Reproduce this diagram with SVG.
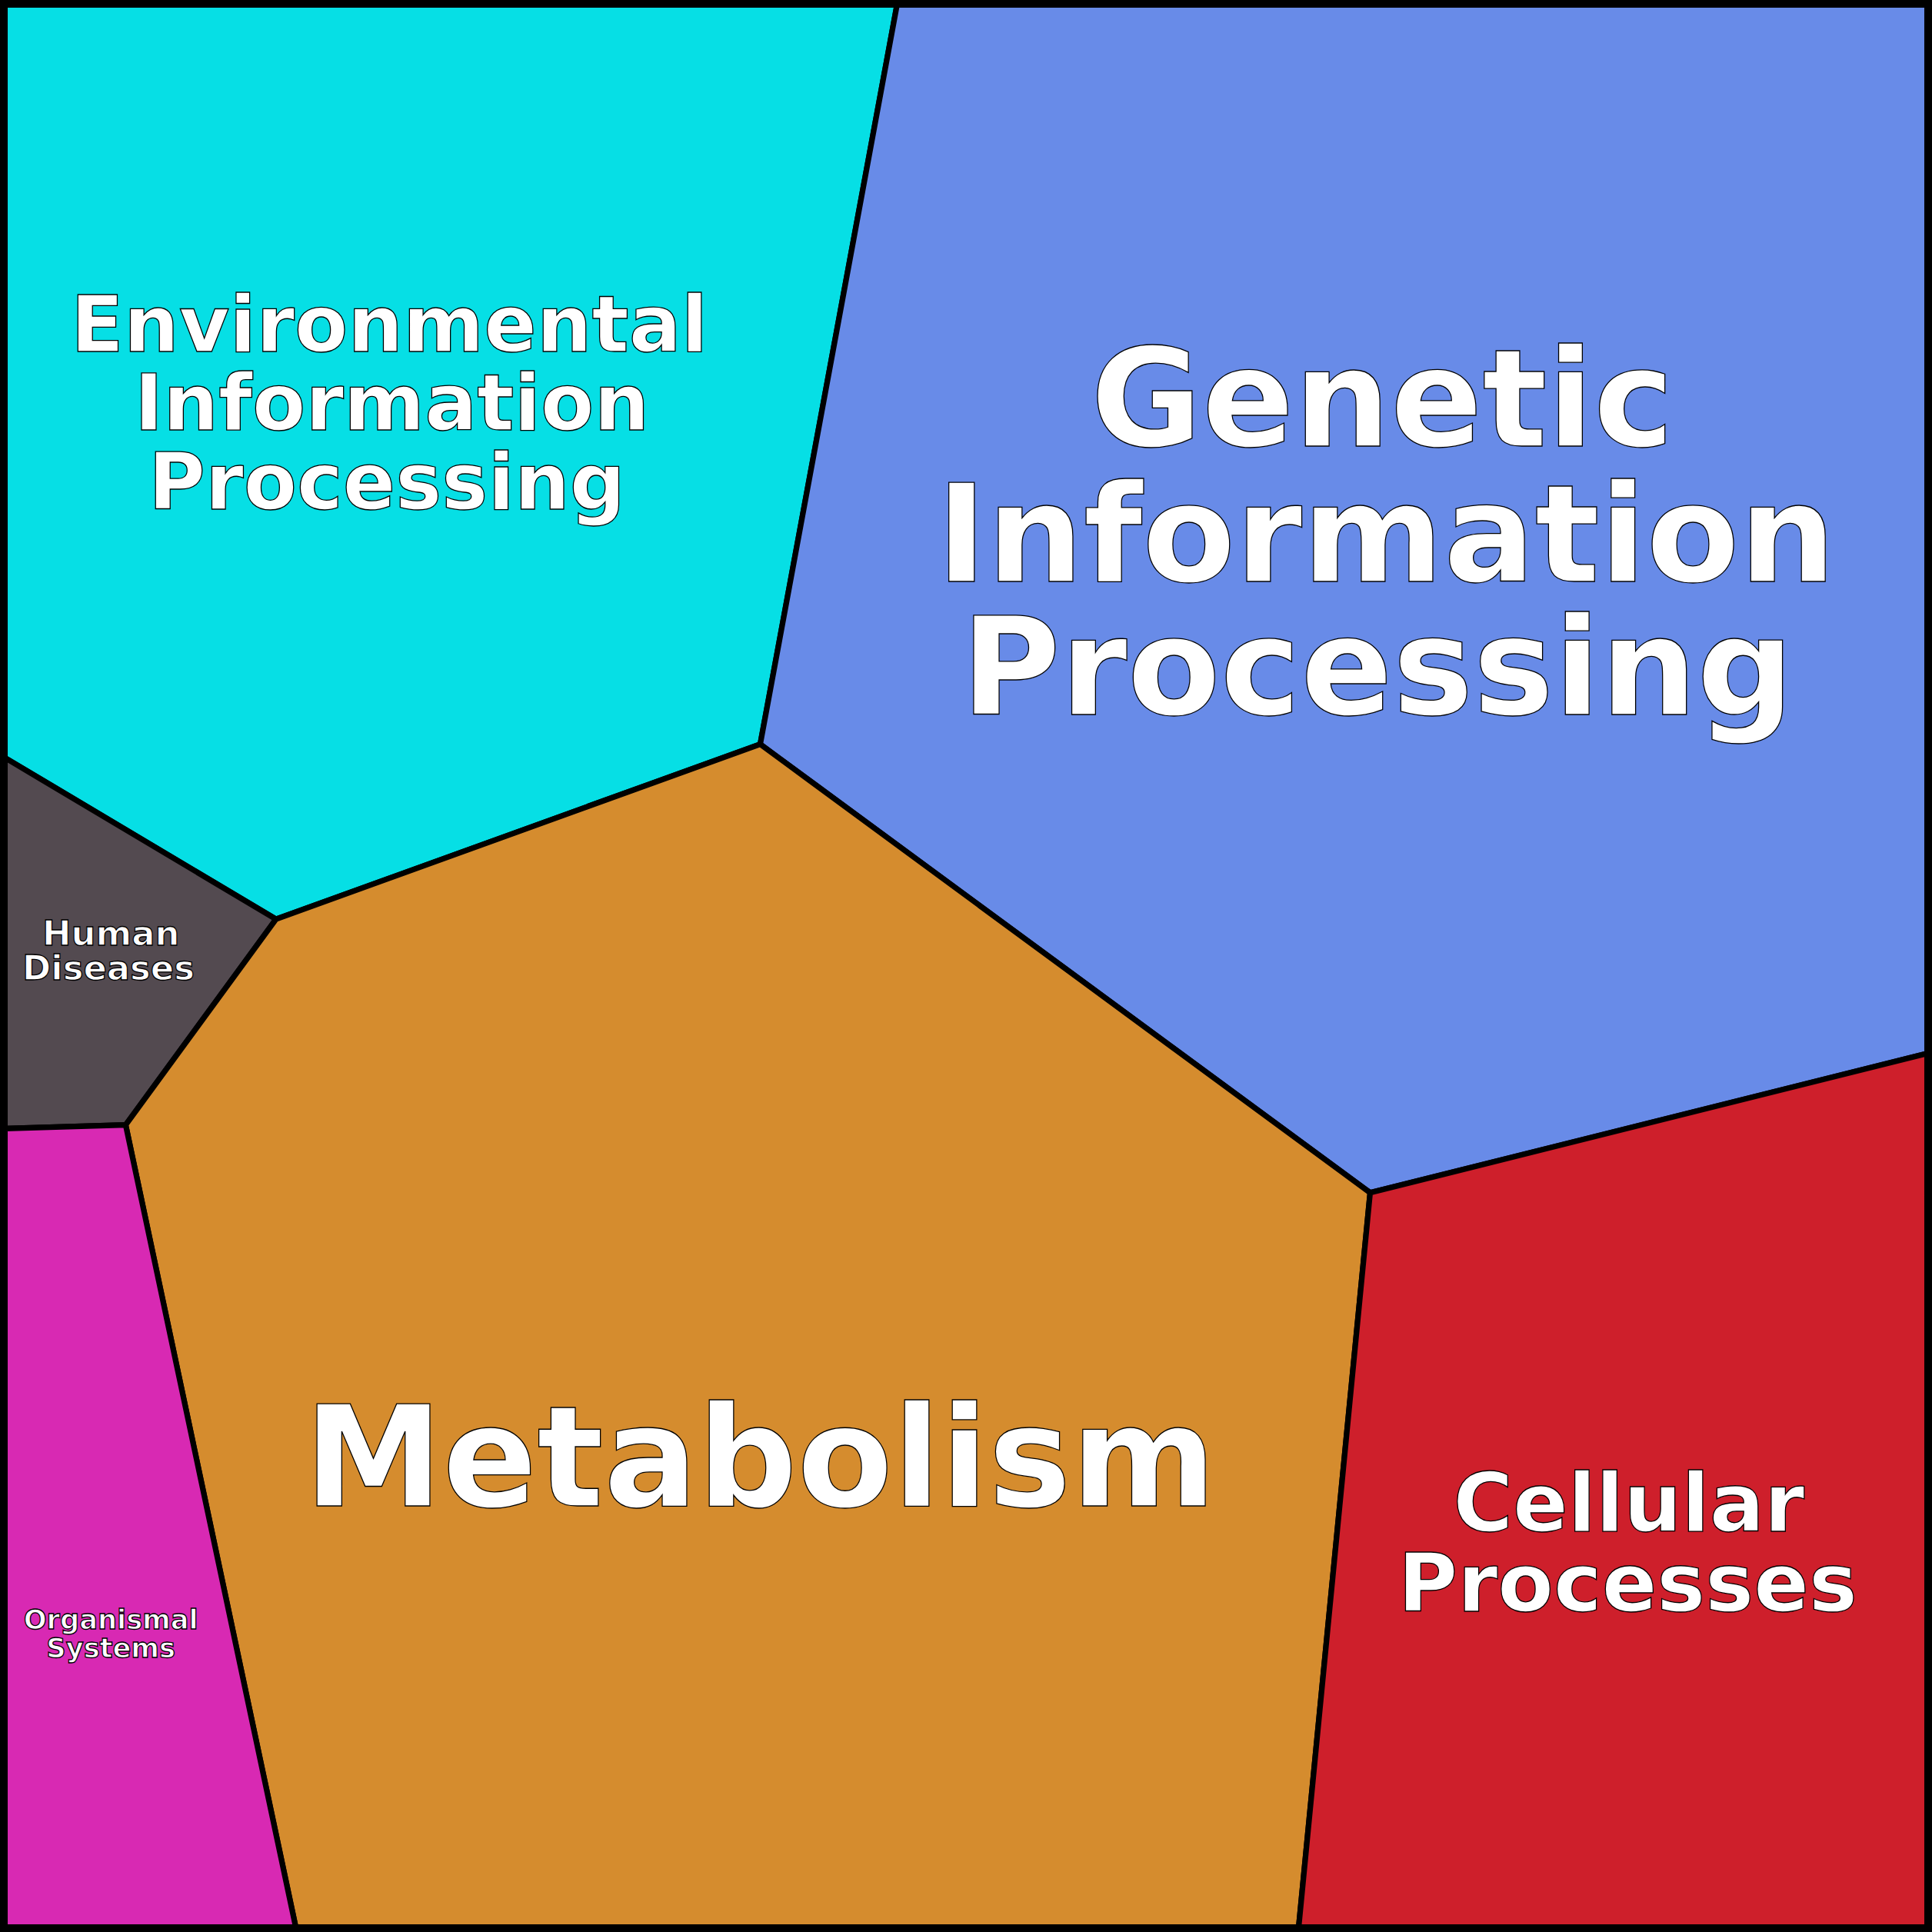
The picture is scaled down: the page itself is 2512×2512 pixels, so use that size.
<svg xmlns="http://www.w3.org/2000/svg" width="2512" height="2512" viewBox="0 0 2512 2512">
<style>
.c{stroke:#000;stroke-width:4.5;stroke-linejoin:round}
.t{font-family:"DejaVu Sans",sans-serif;font-weight:bold;fill:#fff;stroke:#000;stroke-width:0.8;text-anchor:middle}
</style>
<rect x="0" y="0" width="2512" height="2512" fill="#000"/>
<g transform="scale(1.60204)">
<g id="env"><polygon class="c" fill="#06DFE5" points="4,4 728,4 617,604 224,746 4,615"/>
<text class="t" font-size="63"><tspan x="316" y="285">Environmental</tspan><tspan x="318" y="349">Information</tspan><tspan x="314" y="413">Processing</tspan></text></g>
<g id="genetic"><polygon class="c" fill="#688BE8" points="728,4 1564,4 1564,855 1112,968 617,604"/>
<text class="t" font-size="110"><tspan x="1122" y="362">Genetic</tspan><tspan x="1125" y="472">Information</tspan><tspan x="1118" y="580">Processing</tspan></text></g>
<g id="human"><polygon class="c" fill="#534A50" points="4,615 224,746 102,913 4,916"/>
<text class="t" font-size="28"><tspan x="90" y="767">Human</tspan><tspan x="88" y="795">Diseases</tspan></text></g>
<g id="metabolism"><polygon class="c" fill="#D58C2E" points="617,604 1112,968 1054,1564 240,1564 102,913 224,746"/>
<text class="t" font-size="113" x="617" y="1222">Metabolism</text></g>
<g id="organismal"><polygon class="c" fill="#D829B3" points="4,916 102,913 240,1564 4,1564"/>
<text class="t" font-size="22"><tspan x="90" y="1322">Organismal</tspan><tspan x="90" y="1345">Systems</tspan></text></g>
<g id="cellular"><polygon class="c" fill="#CE1F2B" points="1112,968 1564,855 1564,1564 1054,1564"/>
<text class="t" font-size="66"><tspan x="1322" y="1243">Cellular</tspan><tspan x="1321" y="1308">Processes</tspan></text></g>
</g>
<g id="connectors"/>
</svg>
